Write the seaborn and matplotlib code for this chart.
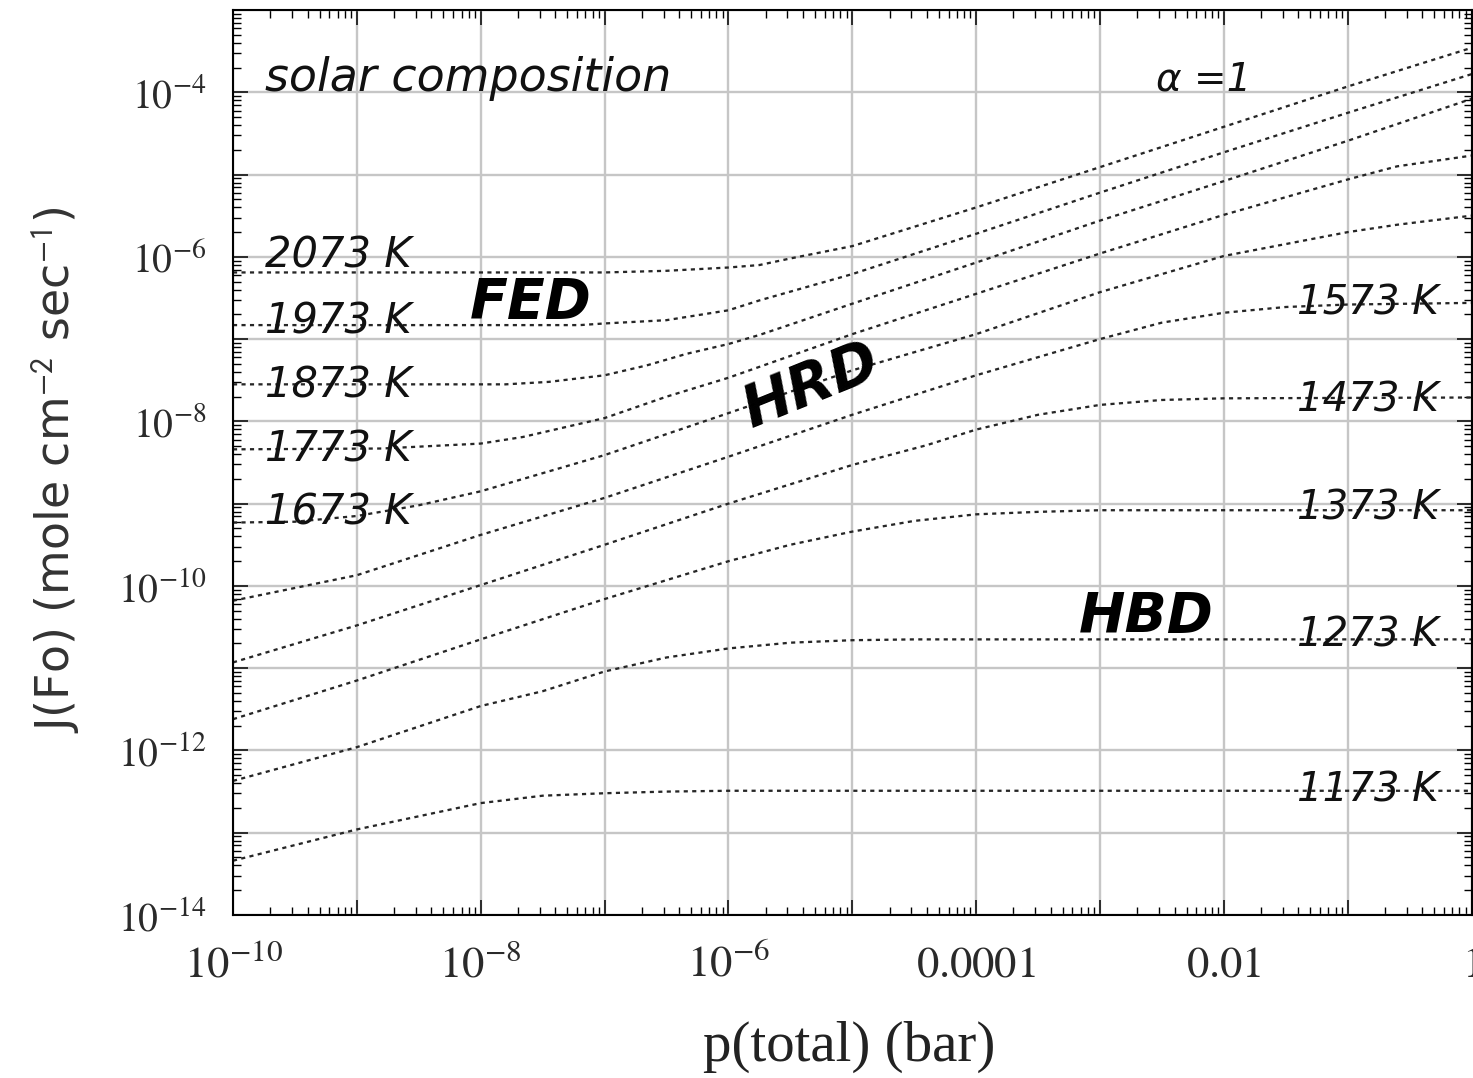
import numpy as np
import pandas as pd
import matplotlib
matplotlib.use("Agg")
import matplotlib.pyplot as plt
import seaborn as sns
from matplotlib.ticker import LogLocator, NullFormatter

# Forsterite evaporation flux J(Fo) vs. total pressure, solar composition gas, alpha = 1.
# Each curve: log10 p(total) [bar] and log10 J(Fo) [mole cm^-2 s^-1].
temperatures = [2073, 1973, 1873, 1773, 1673, 1573, 1473, 1373, 1273, 1173]

logp_2073 = [-10, -8, -7, -6.5, -6, -5.75, -5.5, -5, -4, -3, -2, -1, 0]
logj_2073 = [-6.19, -6.19, -6.19, -6.17, -6.13, -6.10, -6.02, -5.87, -5.40, -4.91, -4.42, -3.93, -3.46]

logp_1973 = [-10, -7.2, -7, -6.5, -6, -5.75, -5, -4, -3, -2, -1, 0]
logj_1973 = [-6.83, -6.83, -6.81, -6.77, -6.65, -6.53, -6.21, -5.72, -5.22, -4.73, -4.25, -3.78]

logp_1873 = [-10, -7.8, -7.45, -7, -6.66, -6.34, -6, -5.75, -5, -4, -3, -2, -1, 0]
logj_1873 = [-7.55, -7.55, -7.52, -7.44, -7.32, -7.18, -7.06, -6.95, -6.57, -6.07, -5.56, -5.08, -4.59, -4.08]

logp_1773 = [-10, -8.8, -8, -7.66, -7, -6.5, -6, -5, -4, -3, -2, -1, -0.6, 0]
logj_1773 = [-8.34, -8.33, -8.27, -8.19, -7.96, -7.70, -7.47, -6.94, -6.45, -5.96, -5.49, -5.06, -4.90, -4.77]

logp_1673 = [-10, -9.5, -9, -8.5, -8, -7, -6, -5, -4, -3, -2, -1, -0.6, 0]
logj_1673 = [-9.23, -9.22, -9.15, -9.02, -8.85, -8.41, -7.90, -7.38, -6.94, -6.43, -5.99, -5.70, -5.61, -5.50]

logp_1573 = [-10, -9, -8, -7, -6, -5, -4, -3, -2.5, -2, -1.5, -1, 0]
logj_1573 = [-10.18, -9.87, -9.38, -8.93, -8.43, -7.92, -7.44, -7.00, -6.80, -6.68, -6.61, -6.58, -6.56]

logp_1473 = [-10, -9, -8, -7, -6, -5, -4.4, -4, -3.5, -3, -2.5, -2, 0]
logj_1473 = [-10.93, -10.48, -9.99, -9.50, -9.00, -8.53, -8.29, -8.10, -7.92, -7.80, -7.74, -7.72, -7.71]

logp_1373 = [-10, -9, -8, -7, -6, -5.5, -5, -4.5, -4, -3.5, -3, 0]
logj_1373 = [-11.62, -11.15, -10.65, -10.16, -9.70, -9.50, -9.34, -9.21, -9.13, -9.10, -9.08, -9.08]

logp_1273 = [-10, -9, -8, -7.5, -7, -6.5, -6, -5.5, -5, -4.5, 0]
logj_1273 = [-12.37, -11.96, -11.46, -11.28, -11.04, -10.87, -10.76, -10.69, -10.66, -10.65, -10.65]

logp_1173 = [-10, -9, -8, -7.5, -7, -6.5, -6, 0]
logj_1173 = [-13.34, -12.96, -12.64, -12.55, -12.52, -12.50, -12.49, -12.49]

curves = {
    2073: (logp_2073, logj_2073),
    1973: (logp_1973, logj_1973),
    1873: (logp_1873, logj_1873),
    1773: (logp_1773, logj_1773),
    1673: (logp_1673, logj_1673),
    1573: (logp_1573, logj_1573),
    1473: (logp_1473, logj_1473),
    1373: (logp_1373, logj_1373),
    1273: (logp_1273, logj_1273),
    1173: (logp_1173, logj_1173),
}

# axis ticks: every decade, labels on every other decade
x_tick_exp = list(range(-10, 1))
x_tick_text = {-10: r"$10^{-10}$", -8: r"$10^{-8}$", -6: r"$10^{-6}$",
               -4: r"$0.0001$", -2: r"$0.01$", 0: r"$1$"}
y_tick_exp = list(range(-14, -2))
y_tick_text = {-4: r"$10^{-4}$", -6: r"$10^{-6}$", -8: r"$10^{-8}$",
               -10: r"$10^{-10}$", -12: r"$10^{-12}$", -14: r"$10^{-14}$"}

rows = []
for T in temperatures:
    lp, lj = curves[T]
    for a, b in zip(lp, lj):
        rows.append({"T": T, "p": 10.0 ** a, "J": 10.0 ** b})
df = pd.DataFrame(rows)

sns.set_theme(style="ticks")
plt.rcParams.update({
    "font.family": ["DejaVu Sans"],
    "mathtext.fontset": "stix",
    "axes.edgecolor": "black",
    "axes.linewidth": 1.5,
    "xtick.color": "black",
    "ytick.color": "black",
})

W, H = 1473, 1078
fig = plt.figure(figsize=(W / 100, H / 100), dpi=100)
fig.patch.set_facecolor("white")
ax = fig.add_axes([233 / W, (H - 915) / H, 1238.5 / W, 905 / H])
ax.set_facecolor("white")
ax.set_xscale("log")
ax.set_yscale("log")

sns.lineplot(data=df, x="p", y="J", units="T", estimator=None, sort=True,
             color="#262626", linewidth=1.65, linestyle=(0, (1.8, 1.9)),
             legend=False, ax=ax)

ax.set_xlim(1e-10, 1)
ax.set_ylim(1e-14, 1e-3)

ax.set_xticks([10.0 ** e for e in x_tick_exp],
              labels=[x_tick_text.get(e, "") for e in x_tick_exp])
ax.set_yticks([10.0 ** e for e in y_tick_exp],
              labels=[y_tick_text.get(e, "") for e in y_tick_exp])
ax.xaxis.set_minor_locator(LogLocator(base=10, subs=np.arange(2, 10), numticks=200))
ax.yaxis.set_minor_locator(LogLocator(base=10, subs=np.arange(2, 10), numticks=200))
ax.xaxis.set_minor_formatter(NullFormatter())
ax.yaxis.set_minor_formatter(NullFormatter())

ax.grid(True, which="major", color="#c6c6c6", linewidth=1.7)
ax.set_axisbelow(True)

ax.tick_params(which="both", direction="in", top=True, right=True, color="black")
ax.tick_params(which="major", length=11, width=1.1)
ax.tick_params(which="minor", length=5.5, width=1.0)
ax.tick_params(axis="x", which="major", pad=44.5, labelsize=32, labelcolor="#2a2a2a")
ax.tick_params(axis="y", which="major", pad=19, labelsize=28.5, labelcolor="#2a2a2a")
for lab in ax.get_xticklabels():
    lab.set_verticalalignment("baseline")
for sp in ax.spines.values():
    sp.set_linewidth(1.5)
    sp.set_color("black")

ax.set_xlabel("p(total) (bar)", family="Liberation Serif", fontsize=41, color="#222222")
ax.xaxis.set_label_coords(0.4976, -0.117)
ax.set_ylabel(r"J(Fo) (mole cm$^{\mathsf{-2}}$ sec$^{\mathsf{-1}}$)",
              family="DejaVu Sans", fontsize=33, color="#333333")
ax.yaxis.set_label_coords(-0.122, 0.4917)

italic = dict(family="DejaVu Sans", style="italic", color="#111111")
ax.text(10 ** -9.74, 10 ** -3.98, "solar composition", ha="left", va="baseline",
        fontsize=33, **italic)
ax.text(10 ** -2.55, 10 ** -3.98, "\u03b1 =1", ha="left", va="baseline",
        fontsize=28, **italic)

left_labels = [(2073, -6.135), (1973, -6.937), (1873, -7.714), (1773, -8.492), (1673, -9.258)]
right_labels = [(1573, -6.706), (1473, -7.885), (1373, -9.197), (1273, -10.740), (1173, -12.623)]
for T, lj in left_labels:
    ax.text(10 ** -9.74, 10 ** lj, f"{T} K", ha="left", va="baseline", fontsize=30, **italic)
for T, lj in right_labels:
    ax.text(10 ** -0.266, 10 ** lj, f"{T} K", ha="right", va="baseline", fontsize=29, **italic)

regime = dict(family="DejaVu Sans", style="italic", weight="bold", fontsize=40, color="black")
ax.text(10 ** -8.09, 10 ** -6.742, "FED", ha="left", va="baseline", **regime)
ax.text(10 ** -3.17, 10 ** -10.558, "HBD", ha="left", va="baseline", **regime)
ax.text(10 ** -5.331, 10 ** -7.569, "HRD", ha="center", va="center", rotation=22,
        rotation_mode="anchor", fontsize=42, family="DejaVu Sans", style="italic",
        weight="bold", color="black")

fig.savefig("out.png", dpi=100)
